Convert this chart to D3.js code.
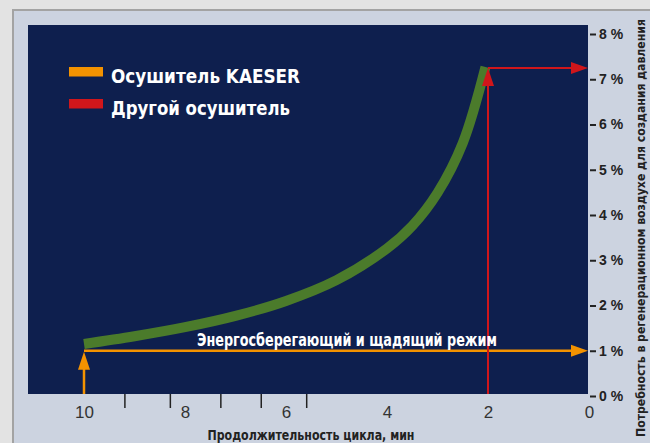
<!DOCTYPE html>
<html><head><meta charset="utf-8">
<script src="https://cdn.jsdelivr.net/npm/d3@7"></script>
<style>
html,body{margin:0;padding:0;background:#e3e3e3;}
svg{display:block;}
text{font-family:"Liberation Sans Narrow","Arial Narrow","DejaVu Sans Condensed",sans-serif;}
</style></head>
<body>
<svg id="chart" width="650" height="443"></svg>
<script>
// ---- data ----
const cycleTimes = [10, 9, 8, 7, 6, 5, 4, 3.5, 3, 2.5, 2.05];
const airDemand  = [1.15, 1.32, 1.52, 1.77, 2.10, 2.56, 3.26, 3.76, 4.49, 5.59, 7.27];
const xTickValues = [10, 8, 6, 4, 2, 0];
const xMinorTicks = [9.2, 8.3, 7.3, 6.5, 5.6];
const yTickValues = [0, 1, 2, 3, 4, 5, 6, 7, 8];
const legendLabels = ["Осушитель KAESER", "Другой осушитель"];
const kaeserPoint = {cycle: 10, demand: 1};
const otherPoint  = {cycle: 2, demand: 7.25};
const modeLabel = "Энергосберегающий и щадящий режим";
const xTitle = "Продолжительность цикла, мин";
const yTitle = "Потребность в регенерационном воздухе для создания давления";

const C = {orange:"#f39200", red:"#d0161b", green:"#4b7b2b", navy:"#0e1f4e", panel:"#ccd3e0", text:"#222"};

const svg = d3.select("#chart");
svg.append("rect").attr("x",0).attr("y",0).attr("width",650).attr("height",443).attr("fill","#e3e3e3");
svg.append("rect").attr("x",13).attr("y",10).attr("width",660).attr("height",460)
  .attr("fill",C.panel).attr("stroke","#a3a3a3").attr("stroke-width",2);

const x = d3.scaleLinear().domain([0,10]).range([589,84]);
const y = d3.scaleLinear().domain([0,8]).range([396,34]);

// plot area
svg.append("rect").attr("x",28).attr("y",25).attr("width",560).attr("height",369).attr("fill",C.navy);

// minor ticks below plot
const minorAxis = d3.axisBottom(x).tickValues(xMinorTicks).tickSize(14).tickFormat("");
const gMin = svg.append("g").attr("transform","translate(0,394)").call(minorAxis);
gMin.select(".domain").remove();
gMin.selectAll(".tick line").attr("stroke","#222").attr("stroke-width",1.5);

// x axis labels
const xAxis = d3.axisBottom(x).tickValues(xTickValues).tickSize(0).tickPadding(0).tickFormat(d3.format("d"));
const gx = svg.append("g").attr("transform","translate(0,406)").call(xAxis);
gx.select(".domain").remove();
gx.selectAll(".tick text").attr("font-size",17).attr("fill","#333")
  .style("font-family","'Liberation Sans Narrow','Arial Narrow',sans-serif").attr("dy","0.71em");

svg.append("text").attr("x",311).attr("y",440).attr("text-anchor","middle")
  .attr("font-size",14).attr("font-weight","bold").attr("fill",C.text)
  .attr("textLength",207).attr("lengthAdjust","spacingAndGlyphs").text(xTitle);

// right y axis
const yAxis = d3.axisRight(y).tickValues(yTickValues).tickSize(6).tickPadding(3).tickFormat(d => d + " %");
const gy = svg.append("g").attr("transform","translate(590,0)").call(yAxis);
gy.select(".domain").remove();
gy.selectAll(".tick line").attr("stroke","#222").attr("stroke-width",2);
gy.selectAll(".tick text").attr("font-size",14).attr("font-weight","bold").attr("fill",C.text)
  .style("font-family","'Liberation Sans Narrow','Arial Narrow',sans-serif");

svg.append("text").attr("transform","translate(645,228) rotate(-90)").attr("text-anchor","middle")
  .attr("font-size",12.5).attr("font-weight","bold").attr("fill",C.text)
  .attr("textLength",418).attr("lengthAdjust","spacingAndGlyphs").text(yTitle);

// curve
const pts = cycleTimes.map((c,i)=>[c, airDemand[i]]).sort((a,b)=>a[0]-b[0]);
svg.append("path").datum(pts)
  .attr("d", d3.line().x(d=>x(d[0])).y(d=>y(d[1])).curve(d3.curveCatmullRom.alpha(0.5)))
  .attr("fill","none").attr("stroke",C.green).attr("stroke-width",10).attr("stroke-linecap","butt");

function arrowUp(g, tx, ty, col){
  g.append("path").attr("d",`M${tx},${ty} L${tx-6},${ty+18} L${tx+6},${ty+18} Z`).attr("fill",col);
}
function arrowRight(g, tx, ty, col){
  g.append("path").attr("d",`M${tx},${ty} L${tx-17},${ty-6} L${tx-17},${ty+6} Z`).attr("fill",col);
}

// Orange (KAESER)
const kx = x(kaeserPoint.cycle), ky = y(kaeserPoint.demand);
svg.append("line").attr("x1",kx).attr("x2",kx).attr("y1",394).attr("y2",ky+12)
  .attr("stroke",C.orange).attr("stroke-width",2.5);
svg.append("line").attr("x1",kx).attr("x2",x(0)-10).attr("y1",ky).attr("y2",ky)
  .attr("stroke",C.orange).attr("stroke-width",2.5);
arrowUp(svg, kx, ky+1, C.orange);
arrowRight(svg, x(0)-1, ky, C.orange);

// Red (other)
const rx = x(otherPoint.cycle), ry = y(otherPoint.demand);
svg.append("line").attr("x1",rx).attr("x2",rx).attr("y1",394).attr("y2",ry+12)
  .attr("stroke",C.red).attr("stroke-width",2);
svg.append("line").attr("x1",rx).attr("x2",x(0)-10).attr("y1",ry).attr("y2",ry)
  .attr("stroke",C.red).attr("stroke-width",2);
arrowUp(svg, rx, ry, C.red);
arrowRight(svg, x(0)-1, ry, C.red);

// mode label
svg.append("text").attr("x",347).attr("y",346).attr("text-anchor","middle")
  .attr("font-size",17).attr("font-weight","bold").attr("fill","#fff")
  .attr("textLength",300).attr("lengthAdjust","spacingAndGlyphs").text(modeLabel);

// legend
const legCols = [C.orange, C.red];
const legWidths = [189, 179];
const lg = svg.append("g");
legendLabels.forEach((lab,i)=>{
  const yy = 67 + i*32;
  lg.append("rect").attr("x",69).attr("y",yy).attr("width",34).attr("height",9.5).attr("fill",legCols[i]);
  lg.append("text").attr("x",111).attr("y",yy+16).attr("font-size",20).attr("font-weight","bold")
    .attr("fill","#fff").attr("textLength",legWidths[i]).attr("lengthAdjust","spacingAndGlyphs").text(lab);
});
</script>
</body></html>
